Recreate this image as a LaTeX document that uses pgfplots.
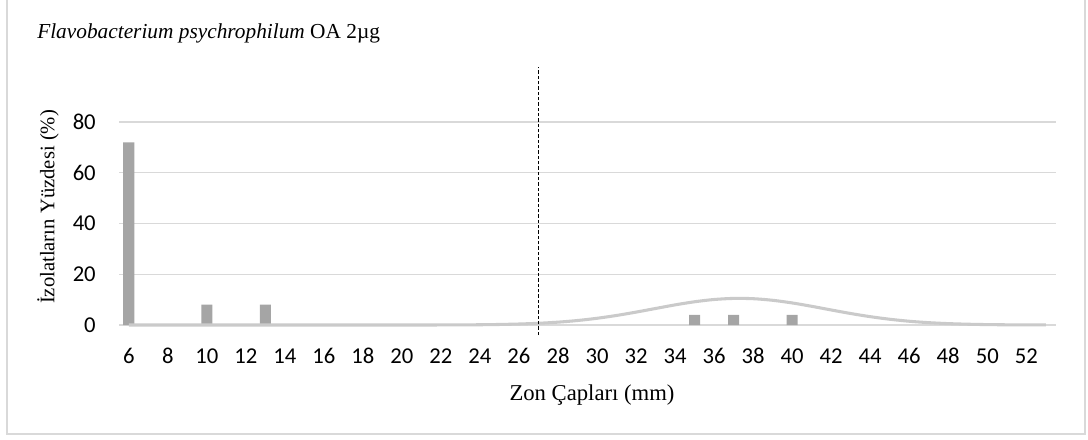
\documentclass[border=0pt]{standalone}
\usepackage{fontspec}
\setmainfont{Liberation Serif}
\newfontfamily\carlito{Carlito}
\usepackage{pgfplots}
\pgfplotsset{compat=1.18}
\definecolor{barcol}{HTML}{A5A5A5}
\definecolor{curvecol}{HTML}{CACACA}
\definecolor{gridcol}{HTML}{D9D9D9}
\begin{document}
\begin{tikzpicture}
\useasboundingbox (0pt,0pt) rectangle (816pt,-329.25pt);
\draw[gridcol, line width=1.1pt] (5.25pt,3.75pt) rectangle (813.75pt,-325.5pt);
\node[anchor=base west, inner sep=0pt, font=\fontsize{16}{18}\selectfont] at (27.75pt,-28.5pt) {\textit{Flavobacterium psychrophilum} OA 2µg};
\begin{axis}[
  at={(89.25pt,-243.75pt)}, anchor=south west,
  scale only axis, width=702.4pt, height=152.25pt,
  xmin=5.5, xmax=53.5, ymin=0, ymax=80,
  enlargelimits=false, clip=false,
  xtick={6,8,...,52}, ytick={0,20,...,80},
  major tick length=0pt,
  axis line style={draw=none},
  ymajorgrids, grid style={gridcol, line width=0.8pt},
  /pgf/number format/assume math mode=true,
  ticklabel style={font=\carlito\fontsize{17}{20}\selectfont},
  xticklabel style={anchor=base, yshift=-28.5pt, inner sep=0pt},
  yticklabel style={anchor=east, xshift=-17.25pt, inner sep=0pt},
]
\addplot[ybar, bar width=8.3pt, fill=barcol, draw=none] coordinates {
(6,72) (10,8) (13,8) (35,4) (37,4) (40,4)
};
\addplot[curvecol, line width=2.3pt, smooth, mark=none] coordinates {
(6,0) (7,0) (8,0) (9,0) (10,0) (11,0) (12,0) (13,0) (14,0) (15,0)
(16,0) (17,0) (18,0) (19,0) (20,0) (21,0) (22,0.02) (23,0.05) (24,0.10) (25,0.21)
(26,0.39) (27,0.68) (28,1.12) (29,1.77) (30,2.65) (31,3.76) (32,5.08) (33,6.51)
(34,7.93) (35,9.16) (36,10.05) (37,10.48) (38,10.37) (39,9.74) (40,8.70)
(41,7.37) (42,5.93) (43,4.53) (44,3.29) (45,2.27) (46,1.48) (47,0.92)
(48,0.55) (49,0.31) (50,0.16) (51,0.08) (52,0.04) (53,0.02)
};
\addplot[black, line width=0.75pt, dash pattern=on 2.5pt off 1.5pt] coordinates {(27,-4) (27,101.6)};
\end{axis}
\node[anchor=base, inner sep=0pt, font=\fontsize{17}{19}\selectfont] at (444pt,-300pt) {Zon Çapları (mm)};
\node[rotate=90, inner sep=0pt, font=\fontsize{15.5}{17}\selectfont] at (36pt,-155.25pt) {İzolatların Yüzdesi (\%)};
\end{tikzpicture}
\end{document}
